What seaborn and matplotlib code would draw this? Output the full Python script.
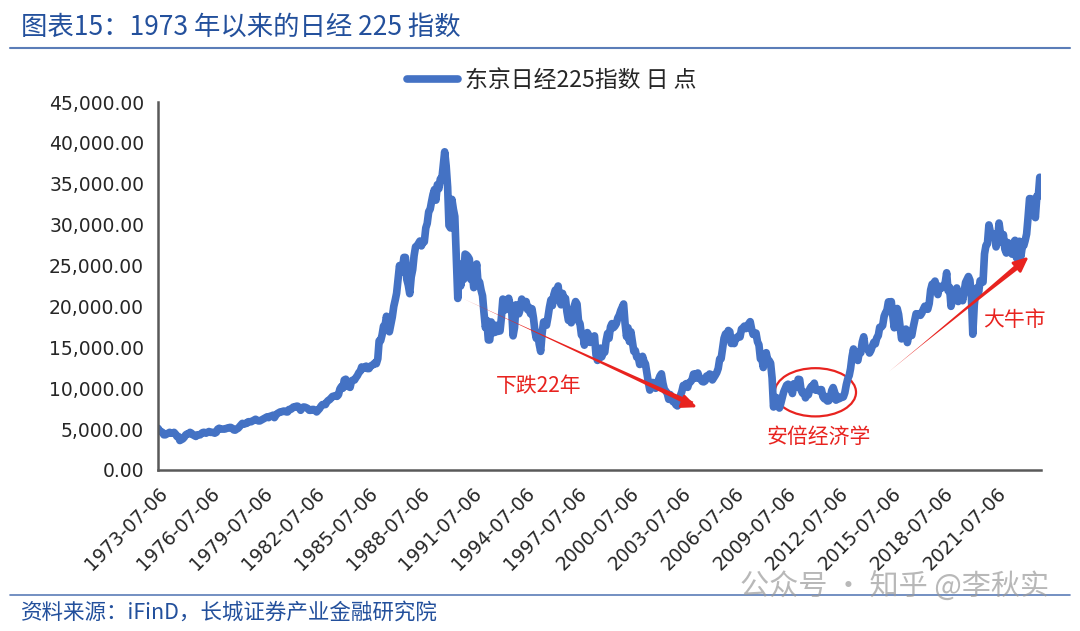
import matplotlib
matplotlib.use("Agg")
import matplotlib.pyplot as plt
import matplotlib.dates as mdates
from matplotlib.patches import Ellipse
import seaborn as sns
import pandas as pd

# Nikkei 225, approx month values, from 1973-07
vals_1970s = [
    5100, 4800, 4700, 4600, 4300, 4300,
    4400, 4500, 4600, 4500, 4500, 4600, 4400, 4100, 4100, 3600, 3700, 3800,
    4000, 4300, 4400, 4400, 4600, 4500, 4300, 4200, 4100, 4300, 4300, 4300,
    4500, 4600, 4600, 4500, 4600, 4700, 4600, 4600, 4600, 4500, 4600, 4990,
    5100, 5000, 5000, 5000, 5000, 5100, 5100, 5200, 5200, 5100, 4900, 4870,
    5000, 5100, 5300, 5500, 5700, 5600, 5700, 5700, 5900, 5900, 5900, 6000,
    6100, 6200, 6100, 6000, 6000, 6100, 6200, 6300, 6400, 6500, 6400, 6570,
]
vals_1980s = [
    6600, 6700, 6400, 6700, 6900, 7000, 7100, 7100, 7200, 7200, 7100, 7100,
    7400, 7400, 7500, 7700, 7700, 7800, 7800, 7600, 7300, 7600, 7700, 7680,
    7600, 7500, 7300, 7300, 7400, 7400, 7300, 7100, 7300, 7500, 7800, 8000,
    8000, 8000, 8300, 8500, 8600, 8800, 9000, 9000, 9100, 9000, 9200, 9900,
    10200, 10000, 11000, 11100, 10300, 10200, 10100, 10900, 11000, 11000, 11300, 11540,
    11900, 12100, 12600, 12400, 12500, 12700, 12400, 12400, 12700, 12800, 12900, 13100,
    13000, 13600, 15800, 15800, 16500, 17600, 17600, 18800, 17800, 16900, 17800, 18700,
    20000, 20800, 21600, 23300, 25000, 24200, 24500, 26000, 26000, 23300, 22600, 21560,
    23600, 24500, 26200, 27300, 27400, 27700, 28000, 27400, 27900, 27900, 29600, 30160,
    31600, 31900, 32800, 33700, 34300, 33000, 34900, 34400, 35600, 35500, 37300, 38916,
]
vals_1990s = [
    37200, 34600, 29900, 29600, 33100, 31900, 31000, 25980, 20980, 25200, 22500, 23850,
    23300, 26400, 26300, 26100, 25800, 23300, 24100, 22300, 23900, 25200, 22700, 22980,
    22000, 21300, 19300, 17400, 18300, 15900, 15900, 18100, 17400, 16800, 17700, 16920,
    17000, 17000, 18600, 20900, 20500, 19600, 20400, 21000, 20100, 19700, 16400, 17420,
    20200, 19100, 19100, 19700, 20900, 20600, 20400, 20600, 19600, 19900, 19100, 19720,
    18600, 17000, 16100, 16800, 15400, 14500, 16700, 18100, 17900, 17700, 18700, 19870,
    20800, 20100, 21400, 22000, 21900, 22500, 20700, 20200, 21600, 20500, 21000, 19360,
    18300, 18600, 18000, 19200, 20000, 20600, 20300, 18200, 17900, 16500, 16600, 15260,
    16600, 16800, 16500, 15600, 15700, 15800, 16400, 14100, 13400, 13600, 14900, 13840,
    14500, 14400, 15800, 16700, 16100, 17500, 17900, 17400, 17600, 17900, 18600, 18930,
]
vals_2000s = [
    19500, 19900, 20300, 17900, 16300, 17400, 15700, 16900, 15700, 14500, 14600, 13790,
    13800, 12900, 13000, 13900, 13300, 12970, 11860, 10710, 9770, 10370, 10700, 10540,
    9990, 10590, 11020, 11490, 11760, 10620, 9880, 9620, 9380, 8640, 9220, 8580,
    8340, 8360, 7970, 7830, 8420, 9080, 9560, 10340, 10220, 10560, 10100, 10680,
    10780, 11040, 11720, 11760, 11240, 11860, 11330, 11080, 10820, 10770, 10900, 11490,
    11390, 11740, 11670, 11010, 11280, 11580, 11900, 12410, 13570, 13610, 14870, 16110,
    16650, 16210, 17060, 16910, 15470, 15510, 15460, 16140, 16130, 16400, 16270, 17230,
    17380, 17600, 17290, 17400, 17880, 18140, 17250, 16570, 16790, 16740, 15680, 15310,
    13590, 13600, 12530, 13850, 14340, 13480, 13380, 13070, 11260, 7700, 8510, 8860,
    7990, 7570, 8110, 8830, 9520, 9960, 10360, 10490, 10130, 10030, 9350, 10550,
]
vals_2010s = [
    10200, 10130, 11090, 11060, 9770, 9380, 9540, 8820, 9370, 9200, 9940, 10230,
    10240, 10620, 9760, 9850, 9690, 9820, 9830, 8950, 8700, 8990, 8430, 8460,
    8800, 9720, 10080, 9520, 8540, 9010, 8700, 8840, 8870, 8930, 9450, 10400,
    11140, 11560, 12400, 13860, 14800, 13680, 13670, 13390, 14460, 14330, 15660, 16290,
    14910, 14840, 14830, 14300, 14630, 15160, 15620, 15420, 16170, 16410, 17460, 17450,
    17670, 18800, 19210, 19520, 20560, 20240, 20590, 18890, 17390, 19080, 19750, 19030,
    17520, 16030, 16760, 16670, 17230, 15580, 16570, 16890, 16450, 17430, 18310, 19110,
    19040, 19120, 18910, 19200, 19650, 20030, 19930, 19650, 20360, 22010, 22720, 22760,
    23100, 22070, 21450, 22470, 22200, 22300, 22550, 22870, 24120, 21920, 22350, 20010,
    20770, 21390, 21210, 22260, 20600, 21280, 21520, 20700, 21760, 22930, 23290, 23660,
]
vals_2020s = [
    23210, 21140, 16600, 20190, 21880, 22290, 21710, 23140, 23190, 22980, 26430, 27440,
    27660, 29970, 29180, 28810, 28860, 28790, 27280, 28090, 30200, 28890, 27820, 28790,
    27000, 26530, 27820, 26850, 27280, 26390, 27800, 28090, 25940, 27590, 27970, 26090,
    27330, 27450, 28040, 28860, 30890, 33190, 33170, 32620, 31860, 30860, 33490, 33460,
    35800,
]
values = vals_1970s + vals_1980s + vals_1990s + vals_2000s + vals_2010s + vals_2020s
dates = pd.date_range("1973-07-06", periods=len(values), freq=pd.DateOffset(months=1))
tick_dates = pd.date_range("1973-07-06", "2021-07-06", freq=pd.DateOffset(years=3))

df = pd.DataFrame({"date": dates, "close": values})

# styles
sns.set_style("white")
plt.rcParams["font.family"] = ["Noto Sans CJK SC", "DejaVu Sans"]
blue = "#4472C4"
title_blue = "#23509C"
red = "#E8231F"

fig = plt.figure(figsize=(10.8, 6.31), dpi=100)
ax = fig.add_axes([0.1463, 0.2552, 0.8176, 0.5831])

sns.lineplot(data=df, x="date", y="close", color=blue, linewidth=5.5, ax=ax,
             label="东京日经225指数 日 点", legend=False)

ax.set_ylim(0, 45000)
ax.set_xlim(pd.Timestamp("1973-07-06"), pd.Timestamp("2024-02-01"))
ax.set_yticks(range(0, 45001, 5000))
ax.yaxis.set_major_formatter(matplotlib.ticker.FuncFormatter(lambda v, p: f"{v:,.2f}"))
ax.set_xticks(tick_dates)
ax.xaxis.set_major_formatter(mdates.DateFormatter("%Y-%m-%d"))
ax.tick_params(axis="both", direction="out", length=6, width=1.5, colors="#595959",
               labelcolor="#262626", labelsize=13.5, pad=4)
for lab in ax.get_xticklabels() + ax.get_yticklabels():
    lab.set_family("DejaVu Sans")
plt.setp(ax.get_xticklabels(), rotation=45, ha="right", rotation_mode="anchor")
ax.set_xlabel("")
ax.set_ylabel("")
for s in ["top", "right"]:
    ax.spines[s].set_visible(False)
for s in ["left", "bottom"]:
    ax.spines[s].set_color("#595959")
    ax.spines[s].set_linewidth(1.8)

# legend at the top
fig.legend(*ax.get_legend_handles_labels(), loc="center", bbox_to_anchor=(0.511, 0.873),
           frameon=False, fontsize=16.5, handlelength=2.2, handletextpad=0.3)

# annotations
d = mdates.date2num
head = dict(arrowstyle="-|>,head_length=0.9,head_width=0.4", color=red, lw=2)
ax.annotate("", xy=(d(pd.Timestamp("1990-11-01")), 21100), xytext=(d(pd.Timestamp("2004-04-01")), 7900),
            arrowprops=dict(arrowstyle="wedge,tail_width=0.4,shrink_factor=0.3", color=red, lw=0))
ax.annotate("", xy=(d(pd.Timestamp("2004-07-15")), 7550), xytext=(d(pd.Timestamp("2003-06-01")), 8500),
            arrowprops=head)
ax.text(d(pd.Timestamp("1995-05-01")), 10300, "下跌22年", color=red, fontsize=15,
        ha="center", va="center")

ax.add_patch(Ellipse((d(pd.Timestamp("2011-03-01")), 9500), width=1700, height=5900,
                     fill=False, edgecolor=red, lw=1.6))
ax.text(d(pd.Timestamp("2011-05-01")), 4050, "安倍经济学", color=red, fontsize=15,
        ha="center", va="center")

ax.annotate("", xy=(d(pd.Timestamp("2015-04-01")), 11800), xytext=(d(pd.Timestamp("2022-12-01")), 25200),
            arrowprops=dict(arrowstyle="wedge,tail_width=0.4,shrink_factor=0.3", color=red, lw=0))
ax.annotate("", xy=(d(pd.Timestamp("2023-07-01")), 26300), xytext=(d(pd.Timestamp("2022-06-01")), 24300),
            arrowprops=head)
ax.text(d(pd.Timestamp("2022-08-01")), 18400, "大牛市", color=red, fontsize=15,
        ha="center", va="center")

# title, header and footer lines
fig.text(0.019, 0.957, "图表15：1973 年以来的日经 225 指数", color=title_blue, fontsize=19,
         style="italic", ha="left", va="center")
fig.add_artist(plt.Line2D([0.009, 0.991], [0.924, 0.924], color="#5B7DB8", lw=1.5))
fig.add_artist(plt.Line2D([0.009, 0.991], [0.057, 0.057], color="#5B7DB8", lw=1.2))
fig.text(0.019, 0.029, "资料来源：iFinD，长城证券产业金融研究院", color=title_blue, fontsize=15.5,
         style="italic", ha="left", va="center")

# watermark
fig.text(0.685, 0.068, "公众号 · 知乎 @李秋实", color="#9A9A9A", alpha=0.7, fontsize=21,
         ha="left", va="center")

plt.savefig("out.png", dpi=100)
